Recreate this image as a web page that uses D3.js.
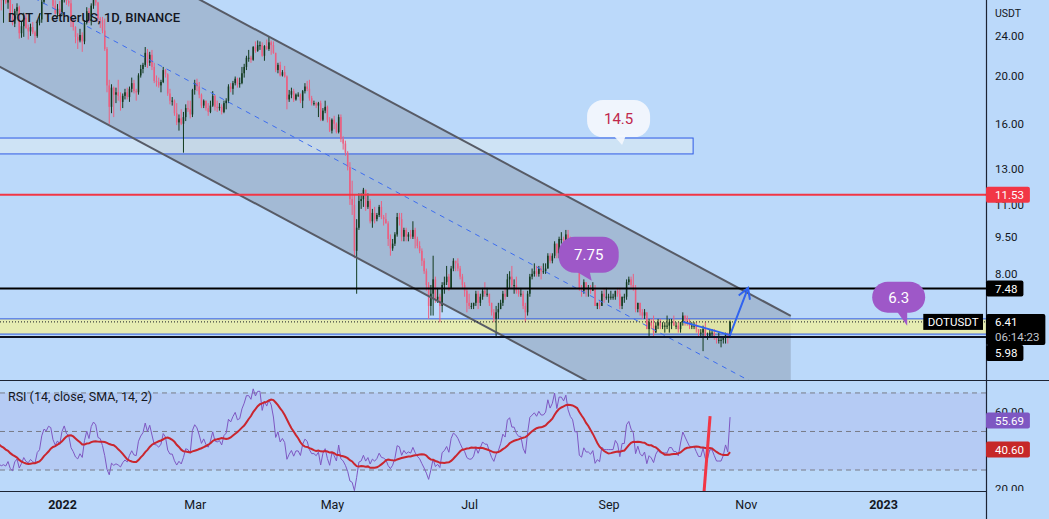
<!DOCTYPE html>
<html><head><meta charset="utf-8">
<script src="https://cdn.jsdelivr.net/npm/d3@7"></script>
<style>
html,body{margin:0;padding:0;background:#bbd9fa;}
svg{display:block;font-family:Roboto,"Liberation Sans",sans-serif;}
</style></head><body>
<svg id="c" width="1049" height="519"></svg>
<script>
// ---------- DATA ----------
const firstDay = "2021-12-04";
// closes just before the left edge (needed to seed RSI 14 / SMA 14)
const seedCloses = [42.6,46.5,50.5,52.5,49.2,48.7,49.3,51.5,50.2,46.6,47.4,45.8,46.9,47.4,45.2,40.4,41.0,37.2,39.9,41.1,39.5,37.0,39.0,37.2,39.7,35.6,36.8,37.8,38.9,37.4,36.5,35.0,32.0];
// daily closes Dec 4 2021 .. Oct 25 2022 (open = previous close)
const closes = [
 29.0,28.3,28.5,28.0,28.8,26.2,25.4,26.9,27.4,24.3,25.1,26.1,24.9,24.5,25.0,24.4,24.0,25.5,25.9,28.1,29.3,29.0,29.8,29.6,27.6,26.6,27.2,26.6,
 28.5,29.4,28.2,27.9,25.8,25.0,23.9,23.5,24.1,23.4,25.5,26.9,25.7,27.6,28.4,28.0,26.0,25.8,24.6,22.6,19.1,17.3,18.9,18.3,18.5,18.2,17.7,18.2,18.5,18.1,18.8,
 19.3,18.6,18.5,20.0,20.6,21.0,22.2,21.2,22.0,20.8,19.5,19.4,19.1,19.4,20.5,20.1,18.4,17.8,17.8,16.8,16.1,16.4,16.0,16.5,17.2,17.1,16.7,18.7,
 19.3,19.0,18.3,17.4,17.8,17.2,16.9,17.4,18.2,17.3,17.2,17.3,16.9,17.6,17.8,19.0,18.8,19.3,19.7,19.2,19.3,20.2,20.8,21.7,21.7,21.5,22.8,22.4,23.0,23.0,21.9,
 22.9,22.6,23.3,23.0,22.2,20.5,21.0,20.0,20.3,19.9,17.9,18.3,18.6,17.9,18.3,18.3,17.8,18.6,19.0,18.8,18.0,17.6,17.6,17.4,17.6,16.3,17.0,17.3,16.3,15.5,
 16.3,16.0,15.4,16.5,14.9,14.6,14.0,13.1,11.3,11.0,8.9,9.9,11.2,11.3,11.8,10.9,11.2,10.2,10.6,10.3,10.5,10.9,10.4,10.3,10.1,9.4,9.0,9.2,9.6,10.4,10.3,
 9.5,9.8,9.5,9.6,9.5,9.8,9.4,9.1,8.9,8.5,8.1,7.6,6.9,7.3,7.8,7.1,7.2,6.9,7.6,7.7,7.9,7.5,8.2,8.5,8.4,8.2,7.9,7.6,7.4,7.0,
 6.9,6.9,7.0,7.3,7.0,7.2,7.4,7.3,7.3,7.0,6.7,6.5,6.7,6.8,7.0,7.3,7.2,7.8,7.9,7.6,7.6,7.4,7.3,7.3,6.9,6.7,7.3,7.9,8.0,8.1,8.0,
 8.2,8.1,8.1,8.2,8.7,8.5,8.7,9.2,8.8,9.4,9.4,9.3,9.6,9.2,9.0,8.9,8.5,8.5,7.5,7.4,7.7,7.5,7.5,7.4,7.5,6.9,7.0,6.9,7.3,7.2,7.2,
 7.2,7.2,7.2,7.4,7.3,6.9,7.2,7.2,7.7,7.8,7.6,7.5,6.8,7.0,6.7,6.6,6.7,6.2,6.4,6.3,6.1,6.3,6.4,6.3,6.3,6.3,6.3,6.4,6.4,6.3,
 6.3,6.2,6.4,6.6,6.5,6.4,6.3,6.3,6.3,6.2,6.1,6.1,6.2,6.0,6.0,6.1,6.1,6.0,5.9,5.9,5.9,5.95,6.05,5.95,6.41
];
const highs = [
 32.3,29.8,28.8,29.7,29.2,29.3,27.8,27.2,27.9,27.6,25.6,26.7,26.6,25.3,25.4,25.6,24.6,25.8,26.6,28.5,29.9,29.6,30.2,31.0,29.8,28.3,27.8,28.2,
 28.7,29.8,29.6,28.8,28.6,26.0,25.1,24.3,24.8,24.4,25.8,27.4,27.3,27.9,28.9,29.0,28.1,26.2,26.2,26.0,22.8,19.6,19.2,19.0,18.9,19.6,18.5,18.4,18.8,18.9,19.0,
 19.8,19.6,18.8,20.2,21.0,21.2,22.8,22.6,22.3,22.5,21.2,20.0,19.8,19.6,20.8,20.6,20.2,18.8,18.1,17.9,17.6,16.7,17.1,16.9,17.5,17.8,17.8,18.8,
 19.6,19.7,19.4,18.4,17.9,17.8,17.6,17.8,18.6,18.3,17.8,17.6,17.5,17.8,18.0,19.2,19.3,19.5,19.9,19.8,19.8,20.8,21.1,21.9,22.5,21.9,22.9,23.4,23.5,23.4,23.3,
 23.0,23.6,23.9,23.5,23.4,22.2,21.2,21.3,20.5,20.9,20.0,18.7,18.9,18.8,18.4,18.5,18.4,18.7,19.3,19.5,19.6,18.2,17.8,17.7,17.7,17.8,17.2,17.8,17.4,16.5,
 16.4,16.6,16.1,16.7,16.7,15.1,14.8,14.1,13.4,12.3,11.5,10.3,11.6,11.6,11.9,11.8,11.6,11.3,10.8,10.9,10.6,11.0,11.2,10.5,10.6,10.2,9.6,9.4,9.7,10.6,10.6,
 10.6,9.9,9.9,9.7,9.8,10.2,9.9,9.5,9.3,9.0,8.6,8.2,7.7,7.6,8.7,7.9,7.5,7.3,7.7,7.9,8.3,8.0,8.3,8.6,8.5,8.6,8.3,8.0,7.7,7.5,
 7.3,7.0,7.0,7.4,7.4,7.3,7.5,7.7,7.5,7.3,7.0,6.8,6.9,7.0,7.1,7.4,7.5,8.0,8.1,8.3,7.8,7.9,7.5,7.5,7.4,7.0,7.4,8.0,8.2,8.4,8.3,
 8.3,8.3,8.4,8.4,8.8,8.8,8.8,9.3,9.2,9.5,9.7,9.5,9.8,9.8,9.5,9.1,9.2,8.7,8.5,7.6,7.8,7.7,7.6,7.6,7.7,7.6,7.0,7.1,7.4,7.5,7.5,
 7.3,7.4,7.3,7.4,7.5,7.5,7.2,7.3,7.8,7.9,7.9,8.0,7.6,7.0,7.0,6.8,6.8,6.7,6.5,6.5,6.6,6.4,6.5,6.5,6.4,6.4,6.6,6.5,6.5,6.6,
 6.4,6.4,6.4,6.7,6.6,6.6,6.5,6.4,6.4,6.4,6.2,6.2,6.3,6.4,6.1,6.2,6.2,6.2,6.0,6.1,6.0,6.0,6.1,6.1,6.45
];
const lows = [
 24.5,27.0,25.5,27.8,27.2,26.0,25.2,25.0,26.4,23.7,23.8,23.9,24.8,23.6,24.0,24.2,23.2,23.8,25.2,25.5,27.8,28.6,28.5,29.3,27.3,26.5,26.2,26.3,
 26.4,28.0,27.7,27.5,25.0,24.6,23.2,22.6,23.3,22.3,23.1,25.3,25.5,25.2,27.2,27.6,25.6,24.9,24.3,22.4,18.5,16.0,16.8,16.5,17.6,17.8,17.0,17.2,17.9,17.9,17.7,
 18.5,18.4,17.8,18.3,19.8,20.2,20.8,20.7,20.9,20.5,19.3,19.0,18.9,18.5,19.3,19.8,18.2,17.5,17.4,16.6,15.9,15.5,15.9,14.0,16.2,16.9,16.4,16.5,
 18.3,18.6,18.0,17.2,17.2,17.0,16.6,16.8,17.3,17.0,16.9,17.0,16.7,16.8,17.1,17.6,18.5,18.3,19.1,18.9,18.9,19.2,19.8,20.5,21.3,21.2,21.4,22.2,22.3,22.5,21.8,
 21.4,22.5,22.4,22.0,22.1,20.3,20.2,19.9,19.9,19.8,17.1,17.7,18.0,17.7,17.8,18.1,17.6,17.2,18.4,18.6,17.8,17.4,17.4,17.2,16.5,16.2,16.2,16.8,16.1,15.4,
 15.3,15.6,15.3,15.3,14.7,14.2,13.8,12.9,11.0,10.5,8.6,7.3,9.8,10.8,10.9,10.7,10.8,10.1,9.9,10.1,10.2,10.4,10.3,10.0,10.1,9.1,8.7,8.9,9.1,9.5,10.0,
 9.3,9.3,9.3,9.3,9.4,9.4,9.0,9.0,8.8,8.3,8.0,7.4,6.5,6.6,6.6,7.0,7.0,6.4,6.7,7.3,7.6,7.4,7.5,8.1,8.1,8.1,7.8,7.5,7.2,6.7,
 6.8,6.8,6.8,6.9,6.8,6.9,7.1,7.2,7.2,6.9,6.6,6.4,6.0,6.5,6.8,6.9,7.1,7.2,7.5,7.5,7.3,7.3,7.2,7.2,6.8,6.4,6.6,7.2,7.8,7.9,7.9,
 7.9,7.8,8.0,8.0,8.2,8.4,8.4,8.6,8.6,8.6,9.2,9.1,9.3,9.1,8.8,8.8,8.4,8.4,7.4,7.2,7.3,7.2,7.2,7.3,7.4,6.9,6.8,6.8,6.9,7.0,7.1,
 7.0,7.1,7.1,7.1,7.2,6.8,6.8,7.0,7.1,7.6,7.5,7.4,6.7,6.7,6.6,6.5,6.5,6.2,6.0,6.2,6.0,6.1,6.2,6.2,6.2,6.1,6.2,6.1,6.2,6.3,
 6.2,6.1,6.1,6.3,6.3,6.3,6.2,6.2,6.2,6.1,6.0,6.0,5.6,6.0,5.9,6.0,6.0,5.9,5.8,5.8,5.7,5.8,5.8,5.8,5.95
];
const priceTicks = [24, 20, 16, 13, 11, 9.5, 8];
const rsiTicks = [60, 20];
const rsiLevels = [70, 50, 30];
const timeTicks = ["2022-01-01","2022-03-01","2022-05-01","2022-07-01","2022-09-01","2022-11-01","2023-01-01"];
const timeTickLabels = ["2022","Mar","May","Jul","Sep","Nov","2023"];
// drawings (date, price anchors)
const channelTop = [["2021-12-04", 46.58], ["2022-11-21", 6.59]];
const channelRatio = 0.4478;           // lower line price / upper line price
const supplyBox = {from:"2021-11-01", to:"2022-10-08T14:00:00Z", lo:13.92, hi:14.98};
const demandZone = {lo:6.06, hi:6.50};
const levels = [11.53, 7.48, 5.98];
const arrowPath = [["2022-10-04T02:00:00Z", 6.41], ["2022-10-25T00:00:00Z", 6.03], ["2022-11-02T00:00:00Z", 7.50]];
const callouts = [
  {text:"14.5", date:"2022-09-07T00:00:00Z", price:14.5},
  {text:"7.75", date:"2022-08-24T12:00:00Z", price:7.75},
  {text:"6.3",  date:"2023-01-11T18:00:00Z", price:6.3}
];
const rsiMark = [["2022-10-16T03:00:00Z", 58.0], ["2022-10-13T11:00:00Z", 19.0]];
const lastPrice = 6.41, countdown = "06:14:23", symbol = "DOTUSDT";
const rsiLast = 55.69, rsiSmaLast = 40.60;
const title = "DOT / TetherUS, 1D, BINANCE";
const rsiTitle = "RSI (14, close, SMA, 14, 2)";

// ---------- CHART ----------
if (highs.length !== closes.length || lows.length !== closes.length) throw new Error("length mismatch "+closes.length+" "+highs.length+" "+lows.length);
const T = s => new Date(s.length === 10 ? s + "T00:00:00Z" : s);
const W = 1049, H = 519, plotR = 986;
const svg = d3.select("#c");
const x = d3.scaleUtc().domain([T("2022-01-01"), T("2023-01-01")]).range([62, 883]);
const y = d3.scaleLog().domain([4.902, 28.33]).range([380, 0]);
const ry = d3.scaleLinear().domain([19.1, 76.2]).range([491, 381]);

const day0 = T(firstDay);
const candles = closes.map((c, i) => {
  const o = i ? closes[i-1] : seedCloses[seedCloses.length-1];
  return {date: d3.utcDay.offset(day0, i), o, c, h: Math.max(highs[i], o, c), l: Math.min(lows[i], o, c)};
});

// RSI (Wilder) + SMA 14
const all = seedCloses.concat(closes), N = 14;
const rsiAll = new Array(all.length).fill(null);
let au = 0, ad = 0;
for (let i = 1; i < all.length; i++) {
  const ch = all[i] - all[i-1], u = Math.max(ch, 0), dn = Math.max(-ch, 0);
  if (i <= N) { au += u / N; ad += dn / N; if (i === N) rsiAll[i] = ad === 0 ? 100 : 100 - 100 / (1 + au / ad); }
  else { au = (au * (N-1) + u) / N; ad = (ad * (N-1) + dn) / N; rsiAll[i] = ad === 0 ? 100 : 100 - 100 / (1 + au / ad); }
}
const smaAll = rsiAll.map((v, i) => i < 2*N - 1 ? null : d3.mean(rsiAll.slice(i-N+1, i+1)));
const off = seedCloses.length;
const rsiPts = candles.map((d, i) => ({date: d.date, v: rsiAll[i+off], s: smaAll[i+off]}));

const defs = svg.append("defs");
defs.append("clipPath").attr("id","cp").append("rect").attr("x",0).attr("y",0).attr("width",plotR).attr("height",380);
defs.append("clipPath").attr("id","cr").append("rect").attr("x",0).attr("y",381).attr("width",plotR).attr("height",110);
defs.append("clipPath").attr("id","ca").append("rect").attr("x",plotR).attr("y",381).attr("width",W-plotR).attr("height",110);

svg.append("rect").attr("width",W).attr("height",H).attr("fill","#bbd9fa");

// ---- price pane ----
const g = svg.append("g").attr("clip-path","url(#cp)");
const top2 = channelTop.map(([d,p]) => [x(T(d)), y(p)]);
const bot2 = channelTop.map(([d,p]) => [x(T(d)), y(p*channelRatio)]);
const mid2 = channelTop.map(([d,p]) => [x(T(d)), y(p*Math.sqrt(channelRatio))]);
g.append("path").attr("d", d3.line()([...top2, ...bot2.slice().reverse()]) + "Z").attr("fill","rgba(110,115,130,0.30)");

// supply box
g.append("rect").attr("x", x(T(supplyBox.from))).attr("y", y(supplyBox.hi))
  .attr("width", x(T(supplyBox.to)) - x(T(supplyBox.from))).attr("height", y(supplyBox.lo) - y(supplyBox.hi))
  .attr("fill","rgba(218,232,242,0.62)").attr("stroke","#2f5be6").attr("stroke-width",1);
// demand zone
g.append("rect").attr("x", 0).attr("y", y(demandZone.hi)).attr("width", plotR).attr("height", y(demandZone.lo) - y(demandZone.hi))
  .attr("fill","rgba(246,242,150,0.72)");
[demandZone.hi, demandZone.lo].forEach(p => g.append("line").attr("x1",0).attr("x2",plotR).attr("y1",y(p)).attr("y2",y(p)).attr("stroke","#2f5be6").attr("stroke-width",1));

// candles
const upC = "#123a1e", dnC = "#ec5f80", bw = 1.5;
g.selectAll(".wk").data(candles).join("line")
  .attr("x1", d => x(d.date)).attr("x2", d => x(d.date)).attr("y1", d => y(d.h)).attr("y2", d => y(d.l))
  .attr("stroke", d => d.c >= d.o ? upC : dnC).attr("stroke-width", 1);
g.selectAll(".bd").data(candles).join("rect")
  .attr("x", d => x(d.date) - bw/2).attr("y", d => y(Math.max(d.o, d.c))).attr("width", bw)
  .attr("height", d => Math.max(1, y(Math.min(d.o, d.c)) - y(Math.max(d.o, d.c))))
  .attr("fill", d => d.c >= d.o ? upC : dnC);

// channel lines
g.append("path").attr("d", d3.line()(top2)).attr("stroke","#575b66").attr("stroke-width",2).attr("fill","none");
g.append("path").attr("d", d3.line()(bot2)).attr("stroke","#575b66").attr("stroke-width",2).attr("fill","none");
g.append("path").attr("d", d3.line()(mid2)).attr("stroke","#3d6df0").attr("stroke-width",1).attr("stroke-dasharray","5,5").attr("fill","none");

// horizontal levels
const lvlStyle = [["#f23645",2],["#000",2],["#0c1222",2]];
levels.forEach((p,i) => g.append("line").attr("x1",0).attr("x2",plotR).attr("y1",y(p)).attr("y2",y(p))
  .attr("stroke",lvlStyle[i][0]).attr("stroke-width",lvlStyle[i][1]));
// last price dotted line
g.append("line").attr("x1",0).attr("x2",plotR).attr("y1",y(lastPrice)).attr("y2",y(lastPrice))
  .attr("stroke","#131722").attr("stroke-width",1).attr("stroke-dasharray","1,2");

// arrow
const ap = arrowPath.map(([d,p]) => [x(T(d)), y(p)]);
g.append("path").attr("d", d3.line()(ap)).attr("stroke","#2f63f0").attr("stroke-width",2).attr("fill","none");
{
  const [x1,y1] = ap[ap.length-2], [x2,y2] = ap[ap.length-1];
  const len = Math.hypot(x2-x1, y2-y1), ux = (x1-x2)/len, uy = (y1-y2)/len, L = 12, a = Math.PI/6;
  const w1 = [x2 + L*(ux*Math.cos(a) - uy*Math.sin(a)), y2 + L*(ux*Math.sin(a) + uy*Math.cos(a))];
  const w2 = [x2 + L*(ux*Math.cos(-a) - uy*Math.sin(-a)), y2 + L*(ux*Math.sin(-a) + uy*Math.cos(-a))];
  g.append("path").attr("d", d3.line()([w1,[x2,y2],w2])).attr("stroke","#2f63f0").attr("stroke-width",2).attr("fill","none");
}

// callouts
const bubbleLayout = [
  {dx:-35, dy:-45, w:63, h:37, t:[-9,4,-10], fill:"rgba(242,247,253,0.95)", color:"#c0284c"},
  {dx:-33, dy:-44, w:60, h:36, t:[-15,-2,-9], fill:"#9e58c8", color:"#fff"},
  {dx:-35, dy:-44, w:53, h:31, t:[-10,0,-14], fill:"#9e58c8", color:"#fff"}
];
const gb = svg.append("g");
callouts.forEach((c, i) => {
  const L = bubbleLayout[i], tx = x(T(c.date)), ty = y(c.price);
  gb.append("path").attr("d", d3.line()([[tx+L.t[0], ty+L.t[2]], [tx+L.t[1], ty+L.t[2]], [tx, ty]]) + "Z").attr("fill", L.fill);
  gb.append("rect").attr("x", tx+L.dx).attr("y", ty+L.dy).attr("width", L.w).attr("height", L.h)
    .attr("rx", Math.min(L.h/2, 16)).attr("fill", L.fill);
  gb.append("text").attr("x", tx+L.dx+L.w/2).attr("y", ty+L.dy+L.h/2).attr("dy","0.36em").attr("text-anchor","middle")
    .attr("font-size", 15).attr("fill", L.color).text(c.text);
});

// title
svg.append("text").attr("x",8).attr("y",22).attr("font-size",13).attr("font-weight",500).attr("fill","#131722").text(title);

// ---- RSI pane ----
const gr = svg.append("g").attr("clip-path","url(#cr)");
gr.append("rect").attr("x",0).attr("width",plotR).attr("y",ry(70)).attr("height",ry(30)-ry(70)).attr("fill","rgba(126,87,194,0.10)");
rsiLevels.forEach(v => gr.append("line").attr("x1",0).attr("x2",plotR).attr("y1",ry(v)).attr("y2",ry(v))
  .attr("stroke","#787b86").attr("stroke-width",1).attr("stroke-dasharray","5,4"));
gr.append("path").datum(rsiPts.filter(d => d.v != null))
  .attr("d", d3.line().x(d => x(d.date)).y(d => ry(d.v))).attr("fill","none").attr("stroke","#7e57c2").attr("stroke-width",1);
gr.append("path").datum(rsiPts.filter(d => d.s != null))
  .attr("d", d3.line().x(d => x(d.date)).y(d => ry(d.s))).attr("fill","none").attr("stroke","#c9262f").attr("stroke-width",2);
gr.append("path").attr("d", d3.line()(rsiMark.map(([d,v]) => [x(T(d)), ry(v)]))).attr("stroke","#f23645").attr("stroke-width",3).attr("fill","none");
svg.append("text").attr("x",8).attr("y",401).attr("font-size",12.5).attr("fill","#131722").text(rsiTitle);

// ---- axes / separators ----
const fmt = d3.format(".2f");
const pa = svg.append("g").attr("transform",`translate(${plotR},0)`)
  .call(d3.axisRight(y).tickValues(priceTicks).tickFormat(fmt).tickSize(0).tickPadding(9));
pa.select(".domain").remove();
pa.selectAll("text").attr("font-size",11.5).attr("font-family","Roboto").attr("fill","#131722");
svg.append("text").attr("x",995).attr("y",17).attr("font-size",10.5).attr("fill","#131722").text("USDT");

const ra = svg.append("g").attr("clip-path","url(#ca)").append("g").attr("transform",`translate(${plotR},0)`)
  .call(d3.axisRight(ry).tickValues(rsiTicks).tickFormat(fmt).tickSize(0).tickPadding(9));
ra.select(".domain").remove();
ra.selectAll("text").attr("font-size",11.5).attr("font-family","Roboto").attr("fill","#131722");

const ta = svg.append("g").attr("transform","translate(0,491)")
  .call(d3.axisBottom(x).tickValues(timeTicks.map(T)).tickFormat((d,i) => timeTickLabels[i]).tickSize(0).tickPadding(9.5));
ta.select(".domain").remove();
ta.selectAll("text").attr("font-size",12.5).attr("font-family","Roboto").attr("fill","#131722")
  .attr("font-weight",(d,i) => /^\d{4}$/.test(timeTickLabels[i]) ? 700 : 400);

svg.append("line").attr("x1",0).attr("x2",W).attr("y1",380.5).attr("y2",380.5).attr("stroke","#1c2434").attr("stroke-width",1.2);
svg.append("line").attr("x1",0).attr("x2",plotR).attr("y1",491.5).attr("y2",491.5).attr("stroke","#1c2434").attr("stroke-width",1.2);
svg.append("line").attr("x1",plotR+0.5).attr("x2",plotR+0.5).attr("y1",0).attr("y2",H).attr("stroke","#1c2434").attr("stroke-width",1.2);

// ---- value tags ----
function tag(parent, xLeft, top, h, fill, lines, subColor) {
  const gg = parent.append("g");
  const r = gg.append("rect").attr("x", xLeft).attr("y", top).attr("height", h).attr("rx", 2).attr("fill", fill);
  let w = 0;
  lines.forEach((t, k) => {
    const tx = gg.append("text").attr("x", xLeft + 9).attr("y", top + 8 + k*15).attr("dy","0.36em")
      .attr("font-size", 11.5).attr("fill", k ? subColor : "#fff").text(t);
    w = Math.max(w, tx.node().getComputedTextLength());
  });
  r.attr("width", w + 15);
}
const priceTags = [
  {v:11.53, fill:"#f23645", lines:[fmt(11.53)]},
  {v:levels[1], fill:"#000", lines:[fmt(levels[1])]},
  {v:lastPrice, fill:"#000", lines:[fmt(lastPrice), countdown]},
  {v:levels[2], fill:"#000", lines:[fmt(levels[2])]}
];
let lastBottom = -Infinity;
priceTags.forEach(t => {
  const h = t.lines.length > 1 ? 31 : 16;
  let top = y(t.v) - 8;
  if (top < lastBottom) top = lastBottom;
  lastBottom = top + h;
  tag(svg, plotR, top, h, t.fill, t.lines, "#c3c6ce");
});
tag(svg, plotR, ry(rsiLast) - 8, 16, "#7e57c2", [fmt(rsiLast)]);
tag(svg, plotR, ry(rsiSmaLast) - 8, 16, "#c62828", [fmt(rsiSmaLast)]);

// symbol tag on the price line
{
  const gg = svg.append("g");
  const tx = gg.append("text").attr("y", y(lastPrice)).attr("dy","0.36em").attr("font-size",11.5).attr("fill","#fff").text(symbol);
  const w = tx.node().getComputedTextLength();
  const right = plotR - 3;
  gg.insert("rect","text").attr("x", right - w - 9).attr("y", y(lastPrice) - 8).attr("width", w + 9).attr("height", 16).attr("fill","#000");
  tx.attr("x", right - w - 4.5);
}
</script>
</body></html>
